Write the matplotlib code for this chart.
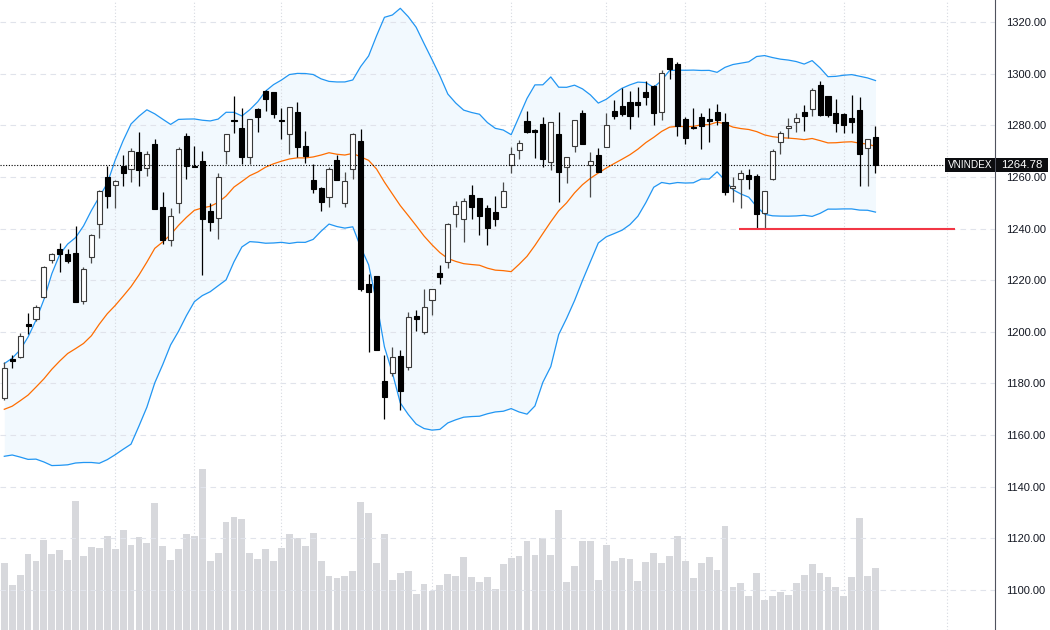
import numpy as np
import matplotlib
matplotlib.use("Agg")
import matplotlib.pyplot as plt
from matplotlib.patches import Rectangle
from matplotlib.transforms import blended_transform_factory
from matplotlib.ticker import FuncFormatter

plt.rcParams['font.family'] = ['Liberation Sans', 'DejaVu Sans']

# ---------------- data (daily VNINDEX candles) ----------------
opens = [1174.3, 1189.4, 1190.4, 1203.0, 1204.8, 1213.4, 1227.8, 1232.0, 1230.0, 1230.4,
         1212.1, 1228.9, 1241.6, 1259.9, 1256.8, 1264.2, 1262.9, 1269.8, 1263.3, 1272.6,
         1248.2, 1235.6, 1250.0, 1276.0, 1264.2, 1266.2, 1246.8, 1244.0, 1270.0, 1282.0,
         1278.8, 1267.8, 1286.2, 1293.3, 1292.8, 1282.0, 1276.5, 1285.3, 1272.0, 1258.8,
         1255.6, 1252.3, 1266.5, 1249.8, 1262.9, 1274.0, 1218.5, 1221.6, 1181.0, 1184.0,
         1190.6, 1186.5, 1206.1, 1199.8, 1212.3, 1222.7, 1226.9, 1245.5, 1243.6, 1252.9,
         1251.7, 1248.1, 1246.3, 1248.5, 1264.6, 1270.4, 1281.6, 1278.2, 1280.5, 1265.7,
         1276.6, 1263.7, 1272.1, 1284.9, 1264.6, 1268.5, 1271.7, 1285.5, 1287.5, 1288.9,
         1288.9, 1292.8, 1295.2, 1285.0, 1305.9, 1303.6, 1282.3, 1279.4, 1283.1, 1282.3,
         1285.0, 1281.4, 1255.6, 1259.1, 1260.7, 1260.4, 1246.1, 1259.1, 1273.4, 1278.8,
         1281.4, 1285.3, 1286.2, 1295.6, 1291.3, 1284.6, 1284.4, 1282.7, 1285.9, 1271.1,
         1275.3]
highs = [1188.4, 1191.0, 1199.4, 1207.4, 1210.4, 1225.5, 1230.6, 1234.3, 1232.0, 1241.0,
         1225.2, 1238.0, 1255.0, 1264.2, 1258.8, 1268.5, 1271.1, 1277.5, 1270.0, 1274.6,
         1254.3, 1248.1, 1271.7, 1276.9, 1272.0, 1270.0, 1249.8, 1261.6, 1276.5, 1291.3,
         1286.8, 1282.3, 1286.5, 1293.6, 1293.0, 1286.8, 1287.0, 1288.9, 1277.8, 1265.0,
         1256.2, 1263.7, 1268.5, 1262.0, 1277.1, 1278.4, 1222.4, 1221.8, 1191.0, 1194.0,
         1193.0, 1207.8, 1208.5, 1216.6, 1216.5, 1225.9, 1242.3, 1250.8, 1251.7, 1256.9,
         1251.7, 1249.1, 1252.6, 1258.1, 1271.7, 1274.3, 1285.5, 1278.5, 1283.3, 1281.2,
         1285.3, 1267.8, 1281.9, 1285.9, 1269.8, 1271.1, 1284.6, 1289.8, 1294.3, 1293.4,
         1294.9, 1297.3, 1295.6, 1301.4, 1306.2, 1304.4, 1283.3, 1286.6, 1284.6, 1286.6,
         1288.2, 1284.9, 1260.1, 1262.7, 1262.9, 1261.0, 1254.5, 1270.7, 1277.8, 1282.7,
         1284.9, 1287.9, 1294.3, 1297.0, 1291.5, 1290.0, 1284.6, 1291.7, 1290.8, 1274.6,
         1279.8]
lows = [1173.6, 1185.9, 1189.8, 1199.2, 1204.3, 1213.0, 1226.5, 1223.3, 1226.5, 1211.5,
        1210.7, 1226.5, 1236.5, 1248.1, 1248.1, 1256.5, 1258.1, 1256.5, 1260.4, 1247.5,
        1233.9, 1233.3, 1245.9, 1259.2, 1263.7, 1222.0, 1239.2, 1235.9, 1264.9, 1276.9,
        1264.9, 1264.9, 1277.3, 1285.6, 1282.9, 1274.6, 1268.9, 1267.8, 1265.3, 1253.7,
        1246.9, 1248.2, 1258.8, 1248.5, 1259.1, 1216.0, 1192.1, 1193.0, 1166.1, 1182.9,
        1169.7, 1185.2, 1200.4, 1199.0, 1206.5, 1218.5, 1224.6, 1240.5, 1234.9, 1243.7,
        1237.5, 1233.6, 1241.0, 1248.5, 1261.4, 1266.8, 1276.9, 1267.4, 1264.0, 1262.7,
        1250.4, 1257.5, 1269.8, 1272.7, 1252.1, 1261.8, 1271.7, 1282.4, 1283.7, 1278.6,
        1283.3, 1287.9, 1280.1, 1282.0, 1297.8, 1276.0, 1272.7, 1278.4, 1270.8, 1273.6,
        1280.1, 1253.0, 1250.4, 1247.9, 1255.3, 1240.1, 1240.1, 1258.8, 1268.8, 1275.0,
        1277.5, 1277.9, 1283.7, 1283.7, 1283.3, 1277.5, 1276.9, 1276.9, 1256.5, 1256.5,
        1261.5]
closes = [1185.9, 1188.7, 1198.5, 1202.3, 1209.5, 1225.0, 1230.0, 1230.0, 1227.4, 1211.7,
          1224.2, 1237.5, 1254.5, 1252.7, 1258.4, 1261.4, 1270.0, 1262.7, 1268.8, 1247.5,
          1235.6, 1245.0, 1270.7, 1264.3, 1263.9, 1243.6, 1242.4, 1260.1, 1276.5, 1281.5,
          1267.8, 1282.3, 1283.1, 1290.2, 1284.3, 1281.6, 1287.0, 1271.5, 1268.1, 1255.2,
          1250.4, 1262.9, 1258.8, 1258.4, 1276.6, 1216.5, 1215.5, 1193.0, 1174.9, 1190.1,
          1177.2, 1205.6, 1204.9, 1209.5, 1216.5, 1221.1, 1241.6, 1248.7, 1250.7, 1248.5,
          1244.9, 1240.1, 1243.6, 1254.5, 1268.9, 1273.3, 1277.5, 1277.3, 1266.9, 1281.2,
          1261.8, 1267.8, 1281.9, 1272.7, 1266.3, 1261.8, 1280.1, 1283.7, 1284.3, 1283.6,
          1287.7, 1290.8, 1284.6, 1300.4, 1301.7, 1279.7, 1275.0, 1279.0, 1279.8, 1281.8,
          1282.0, 1254.3, 1256.5, 1261.4, 1259.1, 1245.5, 1254.5, 1270.0, 1276.9, 1279.8,
          1282.9, 1283.6, 1293.7, 1284.0, 1284.0, 1281.0, 1280.1, 1281.4, 1268.9, 1274.6,
          1264.78]
volumes = [670, 450, 550, 760, 690, 900, 760, 800, 700, 1290,
           740, 830, 820, 940, 810, 1000, 850, 930, 870, 1270,
           840, 700, 810, 960, 940, 1610, 690, 770, 1080, 1130,
           1110, 770, 710, 810, 690, 820, 960, 920, 840, 970,
           690, 540, 520, 540, 590, 1280, 1170, 670, 960, 500,
           570, 590, 360, 460, 390, 450, 560, 540, 730, 530,
           480, 530, 410, 660, 720, 740, 890, 750, 920, 750,
           1200, 480, 640, 890, 890, 500, 850, 690, 720, 710,
           490, 680, 770, 670, 740, 940, 690, 520, 670, 730,
           600, 1040, 430, 470, 340, 570, 300, 340, 380, 350,
           470, 550, 660, 570, 530, 430, 340, 530, 1120, 540,
           620]
# Bollinger(20, 2) values of the first 19 sessions (history before the window)
bb_upper_head = [1187.7, 1189.8, 1193.0, 1198.0, 1204.5, 1212.5, 1222.5, 1230.0, 1234.0, 1236.5,
                 1241.0, 1247.0, 1252.3, 1257.5, 1266.5, 1274.0, 1280.5, 1283.5, 1286.0]
bb_mid_head = [1170.0, 1171.2, 1173.3, 1175.5, 1178.6, 1181.8, 1185.5, 1188.7, 1191.6, 1193.5,
               1195.5, 1198.5, 1203.0, 1207.0, 1210.2, 1213.8, 1217.5, 1222.0, 1227.0]
bb_lower_head = [1151.8, 1152.3, 1151.5, 1150.6, 1150.7, 1149.6, 1148.2, 1148.3, 1148.5, 1149.2,
                 1149.4, 1149.4, 1149.1, 1150.5, 1152.4, 1154.5, 1156.5, 1163.5, 1170.8]
price_ticks = [1100, 1120, 1140, 1160, 1180, 1200, 1220, 1240, 1260, 1280, 1300, 1320]
time_grid_idx = [14, 24, 35, 54, 64, 76, 86, 96, 106, 119]
support_level = 1240.0
support_from, support_to = 92.8, 120.0
symbol = "VNINDEX"

# ---------------- indicators ----------------
n = len(closes)
xs = np.arange(n)
o = np.array(opens); h = np.array(highs); l = np.array(lows); c = np.array(closes)
period, k = 20, 2.0
mid = np.zeros(n); up = np.zeros(n); lo = np.zeros(n)
nh = len(bb_mid_head)
for i in range(n):
    if i < nh:
        mid[i], up[i], lo[i] = bb_mid_head[i], bb_upper_head[i], bb_lower_head[i]
    else:
        w = c[max(0, i - period + 1):i + 1]
        m, s = w.mean(), w.std()
        mid[i], up[i], lo[i] = m, m + k * s, m - k * s

# ---------------- figure ----------------
W, H = 1050, 630
fig = plt.figure(figsize=(W / 100, H / 100), dpi=100)
fig.patch.set_facecolor('white')
rect = [0, 0, 995 / W, 1]
axv = fig.add_axes(rect, zorder=0)
ax = fig.add_axes(rect, zorder=1)
ax.patch.set_alpha(0)

xlim = (-0.543, 125.09)
axv.set_xlim(*xlim)
axv.set_ylim(0, 6300)
axv.bar(xs, volumes, width=0.86, color='#d7d8dc', linewidth=0)
axv.set_axis_off()

ax.set_xlim(*xlim)
ax.set_ylim(1084.52, 1328.52)

# grid
ax.set_yticks(price_ticks)
ax.set_xticks(time_grid_idx)
ax.yaxis.tick_right()
ax.tick_params(axis='y', length=0, pad=8, labelsize=8, labelcolor='#131722')
ax.tick_params(axis='x', length=0, labelbottom=False)
ax.yaxis.set_major_formatter(FuncFormatter(lambda v, p: f"{v:.2f}"))
ax.grid(axis='y', color='#e0e3eb', linestyle=(0, (5, 4)), linewidth=0.8)
ax.grid(axis='x', color='#d6d9e0', linestyle=(0, (1, 2)), linewidth=0.8)
for s in ['top', 'left', 'bottom']:
    ax.spines[s].set_visible(False)
ax.spines['right'].set_color('#50535e')
ax.spines['right'].set_linewidth(0.8)

# bollinger bands
ax.fill_between(xs, lo, up, color='#2196f3', alpha=0.055, linewidth=0, zorder=1)
ax.plot(xs, up, color='#2196f3', lw=0.9, zorder=2)
ax.plot(xs, lo, color='#2196f3', lw=0.9, zorder=2)
ax.plot(xs, mid, color='#ff6d00', lw=0.9, zorder=2)

# candles
bull = c >= o
wick_cols = np.where(bull, '#4a4a4a', '#000000')
ax.vlines(xs, l, h, colors=wick_cols, lw=0.9, zorder=3)
bottoms = np.minimum(o, c)
heights = np.maximum(np.abs(c - o), 0.45)
faces = np.where(bull, '#ffffff', '#000000')
edges = np.where(bull, '#3a3a3a', '#000000')
ax.bar(xs, heights, bottom=bottoms, width=0.64, color=faces, edgecolor=edges,
       linewidth=0.8, zorder=4)

# support line
ax.hlines(support_level, support_from, support_to, color='#f23645', lw=1.5, zorder=5)

# last price line + labels
last = closes[-1]
ax.axhline(last, xmin=0, xmax=945 / 995, color='#000000', lw=0.8,
           linestyle=(0, (1, 1.5)), zorder=5)
tr = blended_transform_factory(ax.transAxes, ax.transData)
box_h = 14 * (ax.get_ylim()[1] - ax.get_ylim()[0]) / H
ax.add_patch(Rectangle((945 / 995, last - box_h / 2), 50 / 995, box_h, transform=tr,
                       facecolor='#0c0d10', edgecolor='none', zorder=10, clip_on=False))
ax.add_patch(Rectangle((996 / 995, last - box_h / 2), 52 / 995, box_h, transform=tr,
                       facecolor='#0c0d10', edgecolor='none', zorder=10, clip_on=False))
ax.text(970 / 995, last, symbol, transform=tr, ha='center', va='center',
        color='white', fontsize=7.2, zorder=11, clip_on=False)
ax.text(1022 / 995, last, f"{last:.2f}", transform=tr, ha='center', va='center',
        color='white', fontsize=8.2, zorder=11, clip_on=False)

fig.savefig('out.png', dpi=100, facecolor='white')
